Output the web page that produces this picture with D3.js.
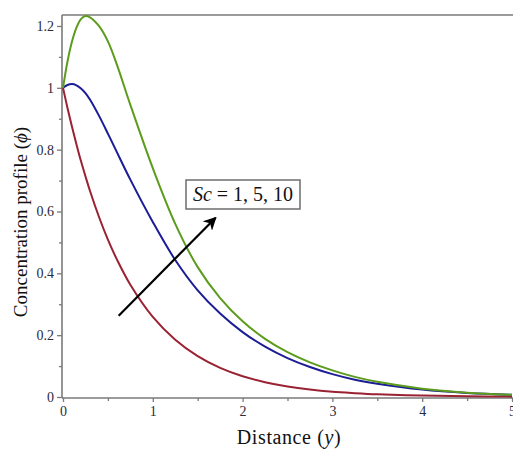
<!DOCTYPE html>
<html>
<head>
<meta charset="utf-8">
<script src="https://cdn.jsdelivr.net/npm/d3@7/dist/d3.min.js"></script>
<style>
  html, body { margin: 0; padding: 0; background: #fff; }
  svg { display: block; }
  text { font-family: "Liberation Serif", "Times New Roman", serif; }
</style>
</head>
<body>
<svg id="chart" width="513" height="449"></svg>
<script>
// Distance values (y) at which the profiles are sampled
const distance = [0, 0.05, 0.1, 0.15, 0.2, 0.25, 0.3, 0.4, 0.5, 0.6, 0.75, 1.0, 1.25, 1.5, 1.75, 2.0, 2.25, 2.5, 2.75, 3.0, 3.25, 3.5, 4.0, 4.5, 5.0];

// Concentration profile (phi) for Sc = 1, 5, 10
const phiSc1  = [1.0, 0.935, 0.874, 0.817, 0.763, 0.714, 0.667, 0.583, 0.509, 0.445, 0.363, 0.259, 0.185, 0.132, 0.094, 0.067, 0.048, 0.034, 0.024, 0.017, 0.0125, 0.0089, 0.0045, 0.0023, 0.0012];
const phiSc5  = [1.0, 1.009, 1.012, 1.008, 0.998, 0.983, 0.962, 0.91, 0.852, 0.792, 0.703, 0.566, 0.443, 0.345, 0.27, 0.21, 0.163, 0.126, 0.097, 0.074, 0.056, 0.043, 0.024, 0.013, 0.007];
const phiSc10 = [1.0, 1.085, 1.15, 1.195, 1.222, 1.232, 1.228, 1.2, 1.15, 1.075, 0.945, 0.74, 0.56, 0.42, 0.32, 0.245, 0.188, 0.145, 0.112, 0.086, 0.065, 0.049, 0.027, 0.014, 0.007];

const seriesNames  = ["Sc = 1", "Sc = 5", "Sc = 10"];
const seriesColors = ["#992233", "#1c1c96", "#5c9c1c"];

// Tick labels
const xTicks = [0, 1, 2, 3, 4, 5];
const xMinorTicks = [0.5, 1.5, 2.5, 3.5, 4.5];
const yTicks = [0, 0.2, 0.4, 0.6, 0.8, 1, 1.2];
const yMinorTicks = [0.1, 0.3, 0.5, 0.7, 0.9, 1.1];

const svg = d3.select("#chart");
const plotLeft = 62, plotRight = 513, plotTop = 15, plotBottom = 397;

const x = d3.scaleLinear().domain([0, 5]).range([plotLeft + 1, plotRight - 1]);
const y = d3.scaleLinear().domain([0, 1.2355]).range([plotBottom, plotTop]);

const axisColor = "#7a7a7a";
const labelColor = "#2b2b3c";

// top frame line
svg.append("line")
  .attr("x1", plotLeft).attr("x2", plotRight)
  .attr("y1", plotTop).attr("y2", plotTop)
  .attr("stroke", axisColor).attr("stroke-width", 1.6);

// y axis
const yAxis = svg.append("g").attr("transform", `translate(${plotLeft},0)`)
  .call(d3.axisLeft(y).tickValues(yTicks).tickSize(5).tickPadding(3)
        .tickFormat(d => d === 0 ? "0" : d3.format("~g")(d)));
svg.append("g").attr("transform", `translate(${plotLeft},0)`)
  .call(d3.axisLeft(y).tickValues(yMinorTicks).tickSize(3).tickFormat(""))
  .call(g => g.select(".domain").remove());

// x axis
const xAxis = svg.append("g").attr("transform", `translate(0,${plotBottom + 1})`)
  .call(d3.axisBottom(x).tickValues(xTicks).tickSize(4).tickPadding(4)
        .tickFormat(d3.format("d")));
svg.append("g").attr("transform", `translate(0,${plotBottom + 1})`)
  .call(d3.axisBottom(x).tickValues(xMinorTicks).tickSize(3).tickFormat(""))
  .call(g => g.select(".domain").remove());

svg.selectAll(".domain").attr("stroke", axisColor).attr("stroke-width", 1.6);
svg.selectAll(".tick line").attr("stroke", axisColor).attr("stroke-width", 1.3);
svg.selectAll(".tick text")
  .attr("fill", labelColor)
  .style("font-family", "'Liberation Serif', serif")
  .style("font-size", "14px");
// keep the left axis line running from the x axis to the top frame
yAxis.select(".domain").attr("d", `M0,${plotBottom + 1}V${plotTop}`);
xAxis.select(".domain").attr("d", `M${plotLeft},0H${plotRight}`);

// profile curves
const profiles = [phiSc1, phiSc5, phiSc10];
const line = d3.line()
  .x((d, i) => x(distance[i]))
  .y(d => y(d))
  .curve(d3.curveCatmullRom.alpha(0.5));

svg.append("g").selectAll("path")
  .data(profiles)
  .join("path")
  .attr("d", d => line(d))
  .attr("fill", "none")
  .attr("stroke", (d, i) => seriesColors[i])
  .attr("stroke-width", 2);

// arrow showing increasing Sc
svg.append("defs").append("marker")
  .attr("id", "arrowhead")
  .attr("viewBox", "0 0 10 10")
  .attr("refX", 9).attr("refY", 5)
  .attr("markerWidth", 6).attr("markerHeight", 6)
  .attr("markerUnits", "strokeWidth")
  .attr("orient", "auto")
  .append("path")
  .attr("d", "M0,0 L10,5 L0,10 L3,5 Z")
  .attr("fill", "#000");

svg.append("line")
  .attr("x1", x(0.62)).attr("y1", y(0.263))
  .attr("x2", x(1.7)).attr("y2", y(0.58))
  .attr("stroke", "#000").attr("stroke-width", 2.2)
  .attr("marker-end", "url(#arrowhead)");

// parameter annotation
svg.append("rect")
  .attr("x", 186).attr("y", 180).attr("width", 114).attr("height", 29)
  .attr("fill", "#fff").attr("stroke", "#6d6d6d").attr("stroke-width", 1.5);

const note = svg.append("text")
  .attr("x", 243).attr("y", 201)
  .attr("text-anchor", "middle")
  .attr("fill", "#111")
  .style("font-size", "20px");
note.append("tspan").style("font-style", "italic").text("Sc");
note.append("tspan").text(" = 1, 5, 10");

// axis titles
const xTitle = svg.append("text")
  .attr("x", 289).attr("y", 444)
  .attr("text-anchor", "middle")
  .attr("fill", "#111")
  .style("font-size", "20px")
  .style("letter-spacing", "0.6px");
xTitle.append("tspan").text("Distance (");
xTitle.append("tspan").style("font-style", "italic").text("y");
xTitle.append("tspan").text(")");

const yTitle = svg.append("text")
  .attr("transform", "translate(27,222) rotate(-90)")
  .attr("text-anchor", "middle")
  .attr("fill", "#111")
  .style("font-size", "19px");
yTitle.append("tspan").text("Concentration profile (");
yTitle.append("tspan").style("font-style", "italic").text("\u03d5");
yTitle.append("tspan").text(")");
</script>
</body>
</html>
